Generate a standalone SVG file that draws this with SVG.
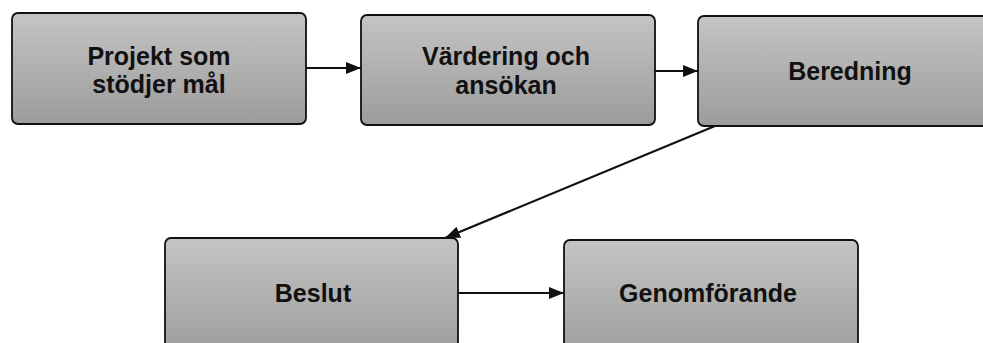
<svg xmlns="http://www.w3.org/2000/svg" width="983" height="343" viewBox="0 0 983 343">
  <defs>
    <linearGradient id="g" x1="0" y1="0" x2="0" y2="1">
      <stop offset="0" stop-color="#c4c4c4"/>
      <stop offset="1" stop-color="#9c9c9c"/>
    </linearGradient>
    <marker id="ah" viewBox="0 0 15 12" refX="15" refY="6" markerWidth="15" markerHeight="12" markerUnits="userSpaceOnUse" orient="auto">
      <path d="M0,0 L15,6 L0,12 Z" fill="#111"/>
    </marker>
  </defs>
  <style>
    .box { fill: url(#g); stroke: #111; stroke-width: 1.8; }
    .lbl { font-family: "Liberation Sans", Arial, sans-serif; font-weight: bold; font-size: 25px; fill: #111; text-anchor: middle; }
    .conn { stroke: #111; stroke-width: 2.2; fill: none; marker-end: url(#ah); }
  </style>
  <rect width="983" height="343" fill="#ffffff"/>
  <g id="connectors">
    <line class="conn" x1="306" y1="68" x2="361" y2="68"/>
    <line class="conn" x1="655" y1="71" x2="698" y2="71"/>
    <line class="conn" x1="715" y1="126" x2="445" y2="238"/>
    <line class="conn" x1="458" y1="293" x2="564" y2="293"/>
  </g>
  <g id="n1">
    <rect class="box" x="12" y="13" width="294" height="111" rx="6"/>
    <text class="lbl" x="159" y="65">Projekt som</text>
    <text class="lbl" x="159" y="93">stödjer mål</text>
  </g>
  <g id="n2">
    <rect class="box" x="361" y="15" width="294" height="110" rx="6"/>
    <text class="lbl" x="506" y="65">Värdering och</text>
    <text class="lbl" x="506" y="94">ansökan</text>
  </g>
  <g id="n3">
    <rect class="box" x="698" y="16" width="304" height="110" rx="6"/>
    <text class="lbl" x="850" y="80">Beredning</text>
  </g>
  <g id="n4">
    <rect class="box" x="165" y="238" width="293" height="120" rx="6"/>
    <text class="lbl" x="313" y="302">Beslut</text>
  </g>
  <g id="n5">
    <rect class="box" x="564" y="240" width="294" height="120" rx="6"/>
    <text class="lbl" x="708" y="302">Genomförande</text>
  </g>
</svg>
